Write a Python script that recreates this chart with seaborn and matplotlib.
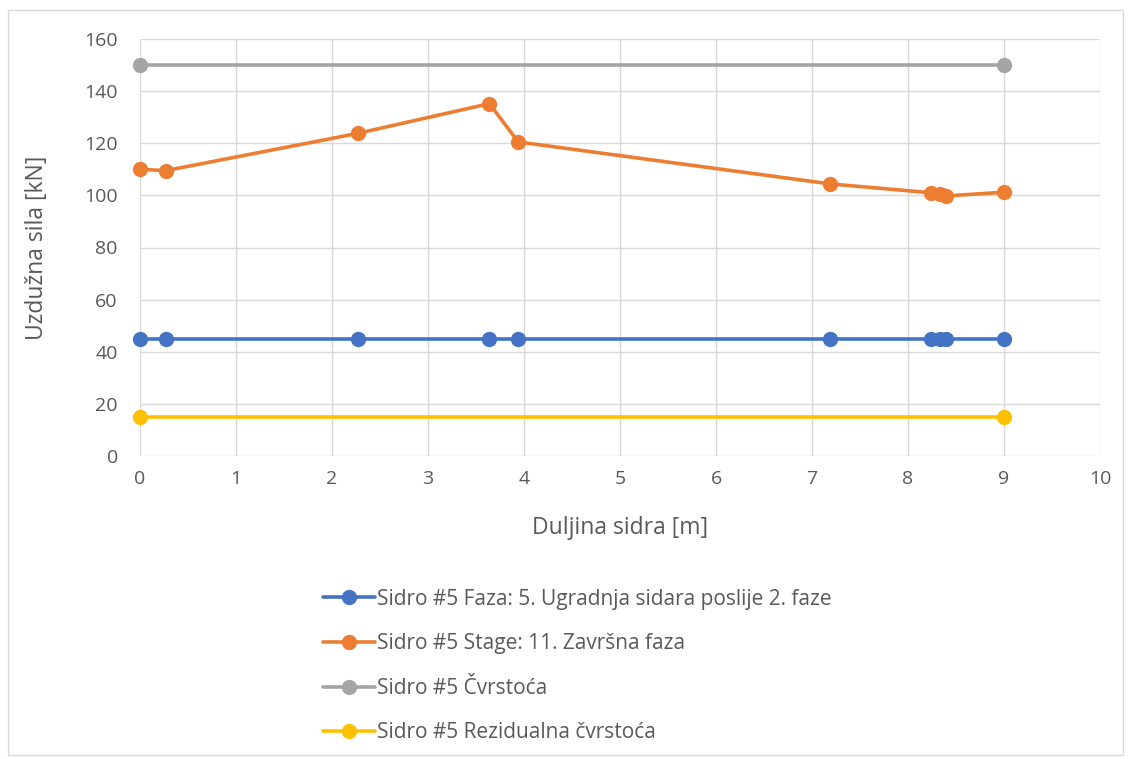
import matplotlib
matplotlib.use('Agg')
import matplotlib.pyplot as plt
import seaborn as sns
import pandas as pd

# series data
x_faza = [0, 0.27, 2.27, 3.64, 3.94, 7.19, 8.24, 8.33, 8.40, 9.0]
y_faza = [45, 45, 45, 45, 45, 45, 45, 45, 45, 45]
x_stage = [0, 0.27, 2.27, 3.64, 3.94, 7.19, 8.24, 8.33, 8.40, 9.0]
y_stage = [110, 109.5, 123.8, 135.2, 120.5, 104.4, 101.0, 100.5, 99.8, 101.2]
x_cvrst = [0, 9.0]
y_cvrst = [150, 150]
x_rez = [0, 9.0]
y_rez = [15, 15]

labels = ['Sidro #5 Faza: 5. Ugradnja sidara poslije 2. faze',
          'Sidro #5 Stage: 11. Završna faza',
          'Sidro #5 Čvrstoća',
          'Sidro #5 Rezidualna čvrstoća']
colors = ['#4472C4', '#ED7D31', '#A5A5A5', '#FFC000']

frames = []
for lab, xs, ys in zip(labels, [x_faza, x_stage, x_cvrst, x_rez],
                       [y_faza, y_stage, y_cvrst, y_rez]):
    frames.append(pd.DataFrame({'x': xs, 'y': ys, 'serija': lab}))
data = pd.concat(frames, ignore_index=True)

sns.set_style('white')
plt.rcParams['font.family'] = ['Open Sans', 'DejaVu Sans']
txt = '#595959'

fig = plt.figure(figsize=(11.31, 7.59), dpi=100)
ax = fig.add_axes([140 / 1131, 1 - 456 / 759, 960 / 1131, 417 / 759])

sns.lineplot(data=data, x='x', y='y', hue='serija', hue_order=labels,
             palette=colors, marker='o', markersize=11, markeredgewidth=0,
             linewidth=2.6, ax=ax, legend=True, estimator=None, sort=True,
             clip_on=False)

ax.set_xlim(0, 10)
ax.set_ylim(0, 160)
ax.set_xticks(range(0, 11))
ax.set_yticks(range(0, 161, 20))
ax.grid(True, color='#D9D9D9', linewidth=1)
ax.set_axisbelow(True)
for s in ax.spines.values():
    s.set_visible(False)
ax.tick_params(axis='x', length=0, labelsize=14, labelcolor=txt, pad=10)
ax.tick_params(axis='y', length=0, labelsize=14, labelcolor=txt, pad=16)
ax.set_xlabel('Duljina sidra [m]', fontsize=16.5, color=txt, labelpad=20)
ax.set_ylabel('Uzdužna sila [kN]', fontsize=16.5, color=txt, labelpad=25)

handles, labs = ax.get_legend_handles_labels()
ax.get_legend().remove()
fig.legend(handles, labs, loc='upper left', bbox_to_anchor=(304 / 1131, 1 - 570 / 759),
           frameon=False, fontsize=15, labelcolor=txt, handlelength=2.5,
           handletextpad=0.12, labelspacing=1.13)

# outer chart border
fig.patches.append(plt.Rectangle((8 / 1131, 4 / 759), 1115 / 1131, 745 / 759,
                                 transform=fig.transFigure, fill=False,
                                 edgecolor='#D9D9D9', lw=1))

fig.savefig('out.png', dpi=100)
